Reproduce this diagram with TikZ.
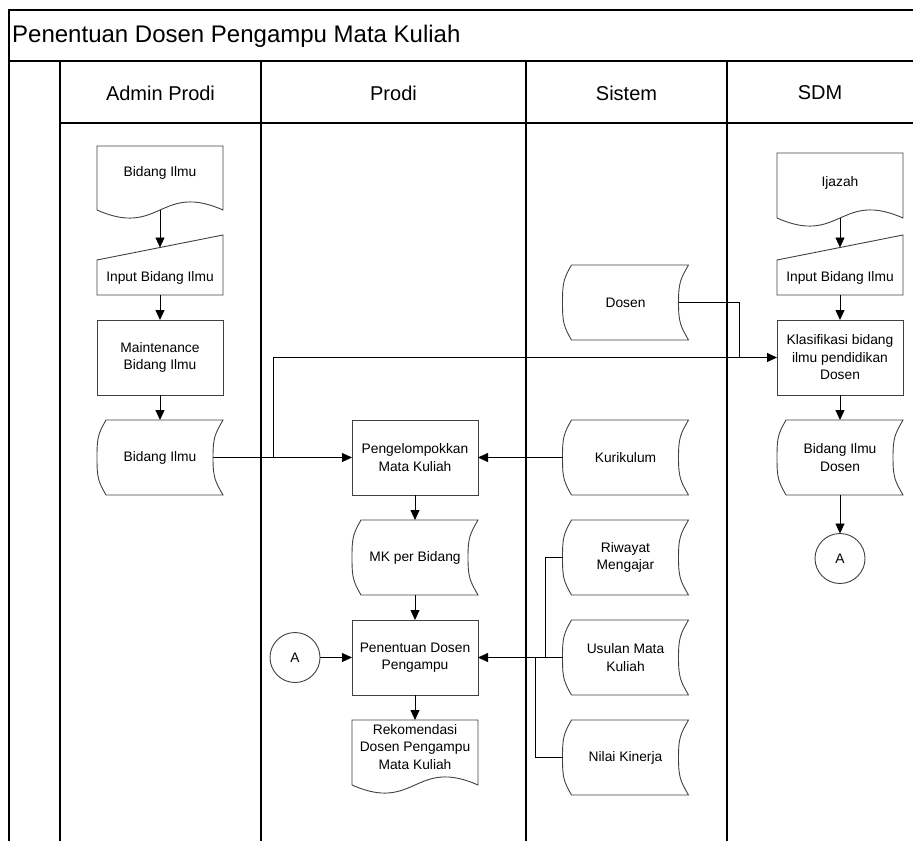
\documentclass[tikz,border=0pt]{standalone}
\usepackage{fontspec}
\setmainfont{Liberation Sans}
\usetikzlibrary{arrows.meta,calc,shapes.geometric}

\definecolor{shapeline}{RGB}{64,64,64}

\tikzset{
  lbl/.style={font=\fontsize{13.8}{17.5}\selectfont, align=center, inner sep=0pt, outer sep=0pt},
  procbox/.style={lbl, draw=shapeline, line width=0.9pt, minimum width=126pt, minimum height=75pt},
  frame/.style={lbl, minimum width=126pt},
  offpage/.style={lbl, draw=shapeline, line width=0.9pt, circle, minimum size=50pt},
  outline/.style={draw=shapeline, line width=0.9pt},
  conn/.style={line width=0.9pt},
  arr/.style={conn, -{Triangle[length=10pt,width=9pt]}},
  lane/.style={line width=1.2pt},
  lanetitle/.style={font=\fontsize{20}{24}\selectfont, inner sep=0pt},
}

% stored data: convex left side, concave right side
\newcommand\storeoutline[1]{%
  \draw[outline] ($(#1.north west)+(9,0)$) -- (#1.north east)
    .. controls ($(#1.north east)+(-8,14)$) and ($(#1.east)+(-10,-20)$) .. ($(#1.east)+(-10,0)$)
    .. controls ($(#1.east)+(-10,20)$) and ($(#1.south east)+(-8,-14)$) .. (#1.south east)
    -- ($(#1.south west)+(9,0)$)
    .. controls ($(#1.south west)+(1,-14)$) and ($(#1.west)+(0,20)$) .. (#1.west)
    .. controls ($(#1.west)+(0,-20)$) and ($(#1.north west)+(1,14)$) .. ($(#1.north west)+(9,0)$)
    -- cycle;}

% document: wavy bottom edge, #2 = drop of the wave ends below the node
\newcommand\docoutline[2]{%
  \draw[outline] ($(#1.south west)+(0,#2)$) -- (#1.north west) -- (#1.north east)
    -- ($(#1.south east)+(0,#2)$)
    .. controls ($(#1.south east)+(-63,{#2-28})$) and ($(#1.south west)+(63,{#2+28})$)
    .. ($(#1.south west)+(0,#2)$);}

% manual input: slanted top edge
\newcommand\manualoutline[1]{%
  \draw[outline] (#1.south west) -- (#1.north west) -- ($(#1.north east)+(0,-25)$)
    -- (#1.south east) -- cycle;}

\begin{document}
\begin{tikzpicture}[x=1pt,y=-1pt]
\useasboundingbox (0,0) rectangle (913,841);

% pool and lanes
\draw[lane] (913,10) -- (9,10) -- (9,841);
\draw[lane] (9,61) -- (913,61);
\draw[lane] (60,123) -- (913,123);
\foreach \lx in {60,261,526,727} \draw[lane] (\lx,61) -- (\lx,841);
\node[font=\fontsize{24}{28}\selectfont, anchor=west, inner sep=0pt] (pool) at (12,36) {Penentuan Dosen Pengampu Mata Kuliah};
\node[lanetitle] (laneadmin) at (160.5,93) {Admin Prodi};
\node[lanetitle] (laneprodi) at (393.5,93) {Prodi};
\node[lanetitle] (lanesistem) at (626.5,93) {Sistem};
\node[lanetitle] (lanesdm) at (820,93) {SDM};

% Admin Prodi
\node[frame, minimum height=54pt] (bidoc) at (160,173) {Bidang Ilmu};
\docoutline{bidoc}{10}
\node[frame, minimum height=35pt] (biin) at (160,277.5) {Input Bidang Ilmu};
\manualoutline{biin}
\node[procbox] (maint) at (160,357.5) {Maintenance\\Bidang Ilmu};
\node[frame, minimum height=75pt] (bistore) at (160,457.5) {Bidang Ilmu};
\storeoutline{bistore}

% Prodi
\node[procbox] (peng) at (415,457.5) {Pengelompokkan\\Mata Kuliah};
\node[frame, minimum height=75pt] (mk) at (415,557.5) {MK per Bidang};
\storeoutline{mk}
\node[procbox] (pen) at (415,657.5) {Penentuan Dosen\\Pengampu};
\node[frame, minimum height=54pt] (rek) at (415,747) {Rekomendasi\\Dosen Pengampu\\Mata Kuliah};
\docoutline{rek}{11}
\node[offpage] (A1) at (295,657.5) {A};

% Sistem
\node[frame, minimum height=75pt] (dosen) at (625.5,302.5) {Dosen};
\storeoutline{dosen}
\node[frame, minimum height=75pt] (kur) at (625.5,457.5) {Kurikulum};
\storeoutline{kur}
\node[frame, minimum height=75pt] (riw) at (625.5,557.5) {Riwayat\\Mengajar};
\storeoutline{riw}
\node[frame, minimum height=75pt] (usu) at (625.5,657.5) {Usulan Mata\\Kuliah};
\storeoutline{usu}
\node[frame, minimum height=75pt] (nil) at (625.5,757.5) {Nilai Kinerja};
\storeoutline{nil}

% SDM
\node[frame, minimum height=60pt] (ijz) at (840,183) {Ijazah};
\docoutline{ijz}{5}
\node[frame, minimum height=35pt] (sdmin) at (840,277.5) {Input Bidang Ilmu};
\manualoutline{sdmin}
\node[procbox] (klas) at (840,357.5) {Klasifikasi bidang\\ilmu pendidikan\\Dosen};
\node[frame, minimum height=75pt] (bidos) at (840,457.5) {Bidang Ilmu\\Dosen};
\storeoutline{bidos}
\node[offpage] (A2) at (840,558.5) {A};

% flow
\draw[arr] ($(bidoc.south)+(0,10)$) -- ($(biin.north)+(0,-12.5)$);
\draw[arr] (biin) -- (maint);
\draw[arr] (maint) -- (bistore);
\draw[arr] ($(bistore.east)+(-10,0)$) -- (peng.west);
\coordinate (j1) at (273,457.5);
\draw[arr] (j1) |- (klas.west);
\coordinate (j2) at (739,357.5);
\draw[conn] ($(dosen.east)+(-10,0)$) -| (j2);

\draw[arr] ($(ijz.south)+(0,5)$) -- ($(sdmin.north)+(0,-12.5)$);
\draw[arr] (sdmin) -- (klas);
\draw[arr] (klas) -- (bidos);
\draw[arr] (bidos) -- (A2);

\draw[arr] (kur.west) -- (peng.east);
\draw[arr] (peng) -- (mk);
\draw[arr] (mk) -- (pen);
\draw[arr] (A1) -- (pen);
\draw[arr] (pen) -- (rek);
\draw[arr] (usu.west) -- (pen.east);
\coordinate (j3) at (545,657.5);
\draw[conn] (riw.west) -| (j3);
\coordinate (j4) at (535,657.5);
\draw[conn] (nil.west) -| (j4);
\end{tikzpicture}
\end{document}
